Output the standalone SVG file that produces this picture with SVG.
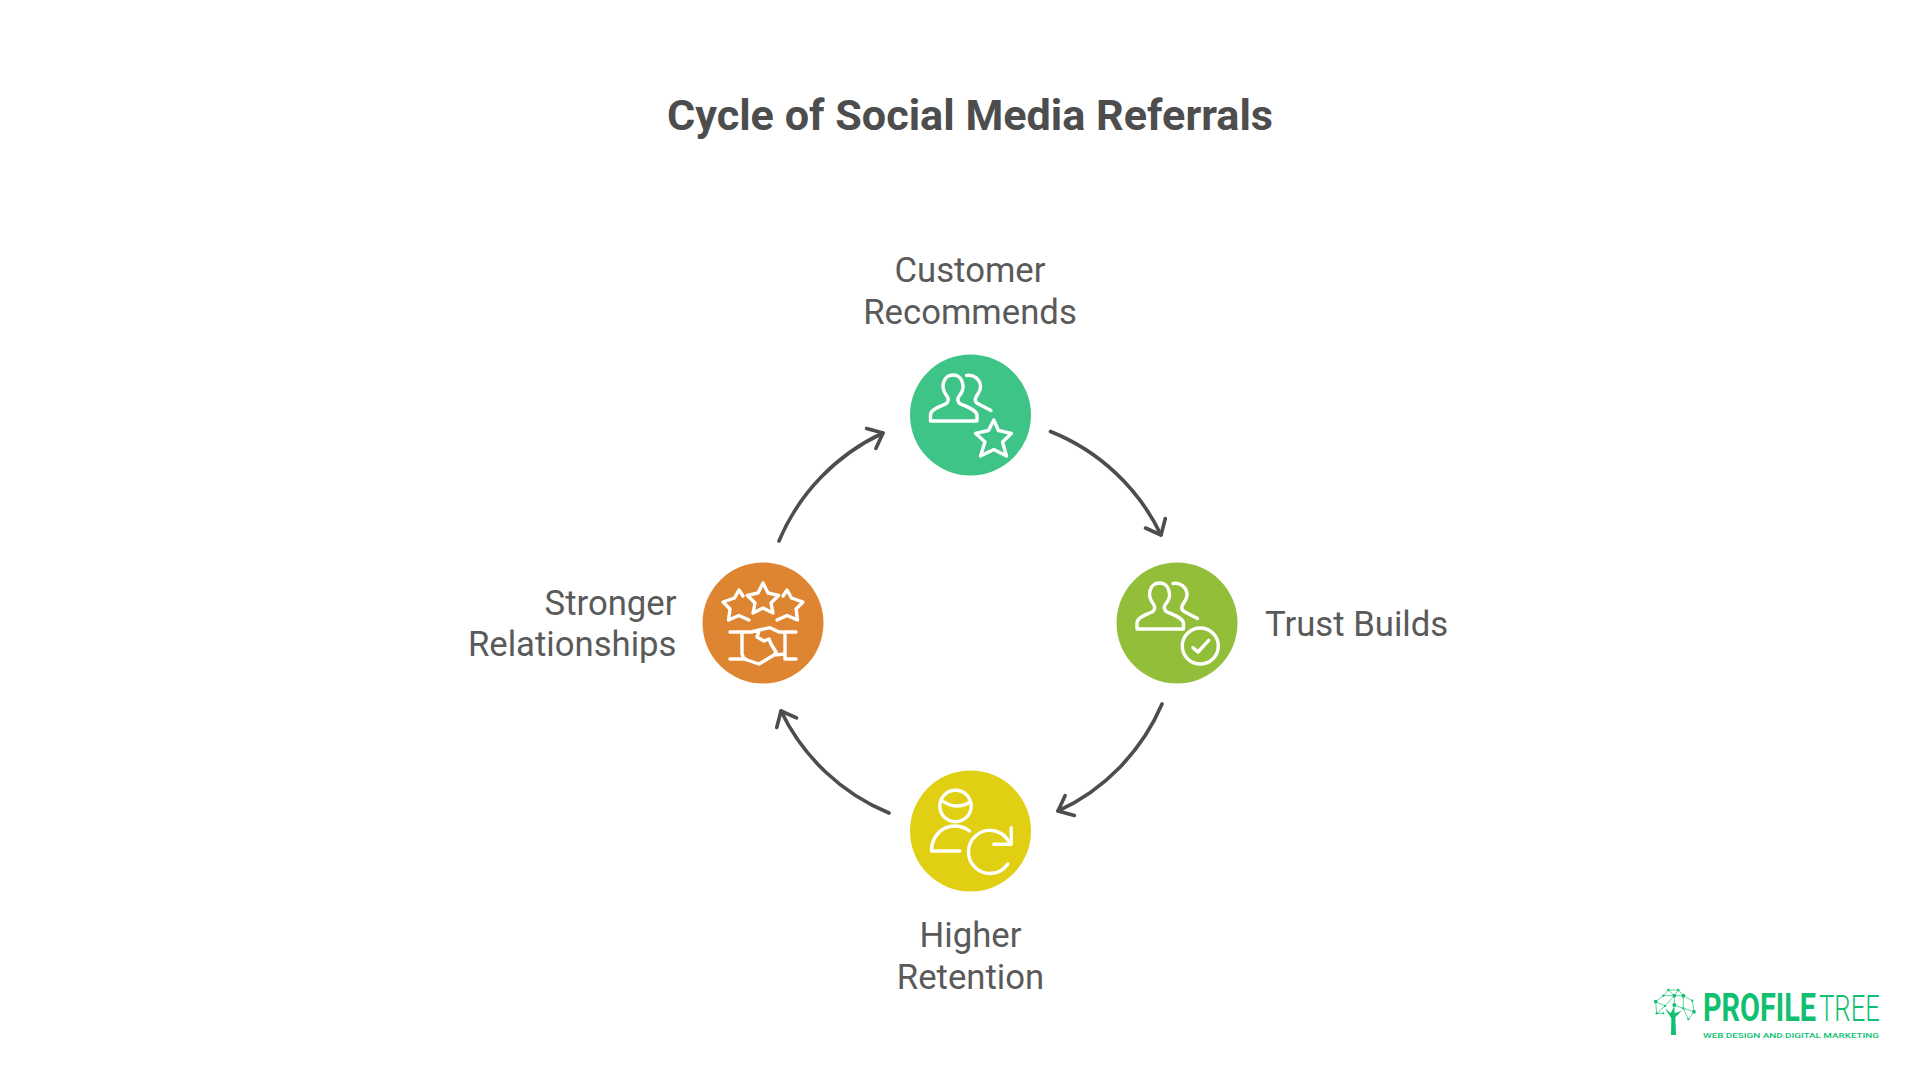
<svg xmlns="http://www.w3.org/2000/svg" xmlns:xlink="http://www.w3.org/1999/xlink" width="1920" height="1080" viewBox="0 0 1920 1080">
<style>
text{font-family:Roboto,"Liberation Sans",sans-serif}
.title{font-size:43.2px;font-weight:700;fill:#4d4d4d;text-anchor:middle}
.lab{font-size:34.7px;fill:#5a5a5a}
.m{text-anchor:middle}
.ic{fill:none;stroke:#fff;stroke-width:3.4;stroke-linecap:round;stroke-linejoin:round}
.arc{fill:none;stroke:#4d4d4d;stroke-width:3.6;stroke-linecap:round;marker-end:url(#ah)}
.tree line{stroke:#10c070;stroke-width:2}
.tree circle{fill:#10c070}
</style>
<defs>
<marker id="ah" markerUnits="userSpaceOnUse" markerWidth="40" markerHeight="40" viewBox="-20 -20 40 40" refX="0" refY="0" orient="auto"><path d="M-13 -11L0 0L-13 11" fill="none" stroke="#4d4d4d" stroke-width="3.6" stroke-linecap="round" stroke-linejoin="round"/></marker>
<g id="people"><path d="M-40 6H6.5V0C6 -5 -3 -8 -10 -11C-13 -13 -13 -16 -12 -18C-8 -23 -7 -26 -7.5 -29C-8 -36 -12 -40 -17.5 -40C-23 -40 -27 -36 -27.5 -29C-27.5 -25 -26 -22 -23 -18C-22 -16 -22 -13 -25 -11C-31 -8 -40 -6 -40 0Z"/><path d="M-4 -39.5C3 -41 9.5 -36 10 -29C10.5 -25 8 -22 5.5 -18C4 -15 5 -12.5 8 -11L20.5 -4.5"/></g>
</defs>
<rect width="1920" height="1080" fill="#fff"/>
<text class="title" x="970" y="130">Cycle of Social Media Referrals</text>
<g id="connectors">
<path class="arc" d="M1050.500 431.500A208 208 0 0 1 1161 535"/>
<path class="arc" d="M1162 704A208 208 0 0 1 1058 811"/>
<path class="arc" d="M889 813A208 208 0 0 1 781 711"/>
<path class="arc" d="M779 541A208 208 0 0 1 883 433"/>
</g>
<g id="node-customer">
<circle cx="970.500" cy="415" r="60.5" fill="#3ec487"/>
<g class="ic" transform="translate(970.500 415)"><use xlink:href="#people" href="#people"/><path d="M23.3 5L28 15.5L41 18.3L32 27L36 41L23.3 34.5L10 41L14.5 27L5 18.3L18 15.5Z"/></g>
<text class="lab m" x="970" y="282">Customer</text><text class="lab m" x="970" y="323.5">Recommends</text>
</g>
<g id="node-trust">
<circle cx="1177" cy="623" r="60.5" fill="#92be3a"/>
<g class="ic" transform="translate(1177 623)"><use xlink:href="#people" href="#people"/><circle cx="23.3" cy="23" r="18"/><path d="M16 24.7L21 29L31.7 17.3"/></g>
<text class="lab" x="1265" y="636">Trust Builds</text>
</g>
<g id="node-retention">
<circle cx="970.500" cy="831" r="60.5" fill="#e0cf13"/>
<g class="ic" transform="translate(970.500 831)"><circle cx="-15" cy="-25" r="15.7"/><path d="M-29.5 -31Q-15 -20 -0.5 -29"/><path d="M-1 0C-5 -3 -10 -5 -16 -5C-29 -5 -39 6 -39 20H-10.7"/><path d="M37.3 33A21.5 21.5 0 1 1 38 10"/><path d="M40.7 -3.3V13.3H23.3"/></g>
<text class="lab m" x="970.500" y="947">Higher</text><text class="lab m" x="970.500" y="988.500">Retention</text>
</g>
<g id="node-relationships">
<circle cx="763" cy="623" r="60.5" fill="#de8531"/>
<g class="ic" transform="translate(763 623)"><path d="M0 -40L5 -30L15.7 -27.7L8 -20L10 -10L0 -15L-10 -10L-8 -20L-15.7 -27.7L-5 -30Z"/><path d="M-20 -27L-24 -33L-28.5 -25L-40 -21L-33 -14L-34.5 -3L-24 -7.5L-14 -3"/><path d="M20 -27L24 -33L28.5 -25L40 -21L33 -14L34.5 -3L24 -7.5L14 -3"/><path d="M-33 9H-12L-4 7L7 4.7L16 9H33M-21 9V31L-19 36L-4 41L11 32L22 31M-33 36H-17M22 9V36H33M-4 8L-6 14L1 18L6 16L8 21L13 29L11 32"/></g>
<text class="lab" text-anchor="end" x="676.500" y="615">Stronger</text><text class="lab" text-anchor="end" x="676.500" y="656">Relationships</text>
</g>
<g id="logo">
<g class="tree" transform="translate(1640 980) scale(.3333)">
<path d="M93 165H108L106 112L125 92L104 100L103 78L92 100L75 85L94 115Z" fill="#10c070"/>
<line x1="47" y1="65" x2="70" y2="47"/><line x1="70" y1="47" x2="85" y2="30"/><line x1="85" y1="30" x2="115" y2="30"/><line x1="115" y1="30" x2="130" y2="47"/><line x1="130" y1="47" x2="157" y2="62"/><line x1="157" y1="62" x2="162" y2="95"/><line x1="47" y1="65" x2="50" y2="100"/><line x1="50" y1="100" x2="75" y2="78"/><line x1="47" y1="65" x2="75" y2="78"/><line x1="70" y1="47" x2="103" y2="47"/><line x1="103" y1="47" x2="130" y2="47"/><line x1="103" y1="47" x2="103" y2="75"/><line x1="75" y1="78" x2="103" y2="47"/><line x1="130" y1="47" x2="130" y2="85"/><line x1="130" y1="85" x2="162" y2="95"/><line x1="130" y1="85" x2="145" y2="118"/><line x1="162" y1="95" x2="145" y2="118"/><line x1="85" y1="30" x2="103" y2="47"/><line x1="115" y1="30" x2="103" y2="47"/><line x1="50" y1="100" x2="70" y2="100"/><line x1="103" y1="75" x2="130" y2="85"/>
<circle cx="47" cy="65" r="5.5"/><circle cx="50" cy="100" r="3.5"/><circle cx="70" cy="47" r="3.5"/><circle cx="85" cy="30" r="3.5"/><circle cx="115" cy="30" r="3.5"/><circle cx="130" cy="47" r="6"/><circle cx="157" cy="62" r="3.5"/><circle cx="162" cy="95" r="5.5"/><circle cx="103" cy="47" r="5.5"/><circle cx="103" cy="75" r="6"/><circle cx="75" cy="78" r="3.5"/><circle cx="130" cy="85" r="3.5"/><circle cx="145" cy="118" r="3.5"/><circle cx="70" cy="100" r="3"/>
</g>
<text x="1703" y="1021" font-size="38" font-weight="700" fill="#10c070" textLength="113" lengthAdjust="spacingAndGlyphs">PROFILE</text>
<text x="1819" y="1020.5" font-size="37.5" font-weight="300" fill="#10c070" textLength="61" lengthAdjust="spacingAndGlyphs">TREE</text>
<text x="1703" y="1037.5" font-size="8" font-weight="500" fill="#10c070" textLength="176" lengthAdjust="spacingAndGlyphs">WEB DESIGN AND DIGITAL MARKETING</text>
</g>
</svg>
